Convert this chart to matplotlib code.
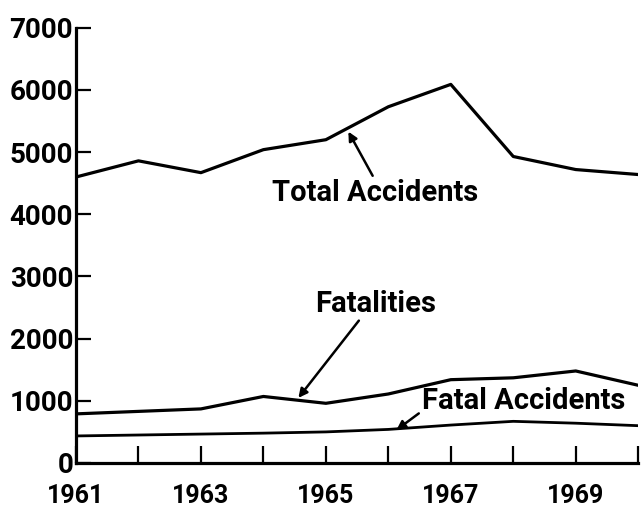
import numpy as np
from matplotlib import pyplot as plt
import matplotlib

matplotlib.rcParams['font.family'] = ['Roboto', 'DejaVu Sans']

years = [1961, 1962, 1963, 1964, 1965, 1966, 1967, 1968, 1969, 1970]
total_accidents = [4600, 4860, 4670, 5040, 5200, 5730, 6090, 4930, 4720, 4640]
fatalities = [790, 830, 870, 1070, 960, 1110, 1340, 1370, 1480, 1250]
fatal_accidents = [435, 450, 465, 480, 500, 540, 610, 670, 640, 600]

yticks = [0, 1000, 2000, 3000, 4000, 5000, 6000, 7000]
xlabels = ['1961', '', '1963', '', '1965', '', '1967', '', '1969', '']

fig = plt.figure(figsize=(6.44, 5.15), dpi=100)
ax = fig.add_axes([0.118, 0.101, 0.873, 0.845])

ax.plot(years, total_accidents, color='black', lw=2.3)
ax.plot(years, fatalities, color='black', lw=2.3)
ax.plot(years, fatal_accidents, color='black', lw=2.0)

ax.set_xlim(1961, 1970)
ax.set_ylim(0, 7000)
for s in ['top', 'right']:
    ax.spines[s].set_visible(False)
for s in ['left', 'bottom']:
    ax.spines[s].set_linewidth(2.3)

ax.set_xticks(years)
ax.set_xticklabels(xlabels)
ax.set_yticks(yticks)
ax.set_yticklabels([str(v) for v in yticks])
ax.tick_params(axis='x', direction='in', length=12, width=1.6, pad=15,
               labelsize=18)
ax.tick_params(axis='y', direction='in', length=11, width=1.6, pad=2,
               labelsize=20)
for lbl in ax.get_xticklabels() + ax.get_yticklabels():
    lbl.set_fontweight('bold')

arrow = dict(arrowstyle='-|>', color='black', lw=1.8, mutation_scale=13,
             shrinkA=0, shrinkB=0)
ax.annotate('Total Accidents', xy=(1965.36, 5330), xytext=(1965.79, 4350),
            ha='center', va='center', fontsize=21, fontweight='bold',
            arrowprops=dict(arrow, relpos=(0.495, 1.0)))
ax.annotate('Fatalities', xy=(1964.56, 1047), xytext=(1965.79, 2560),
            ha='center', va='center', fontsize=21, fontweight='bold',
            arrowprops=dict(arrow, relpos=(0.41, 0.15)))
ax.annotate('Fatal Accidents', xy=(1966.13, 531), xytext=(1968.16, 990),
            ha='center', va='center', fontsize=21, fontweight='bold',
            arrowprops=dict(arrow, relpos=(0.01, 0.2)))

plt.savefig('out.png', dpi=100)
